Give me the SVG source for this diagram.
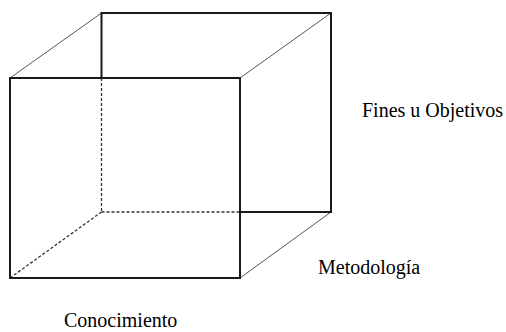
<svg xmlns="http://www.w3.org/2000/svg" width="506" height="332" viewBox="0 0 506 332">
<style>
.e{stroke:#1a1a1a;stroke-width:2;fill:none}
.d{stroke:#333;stroke-width:1.3;stroke-dasharray:3,2;fill:none}
.t{stroke:#555;stroke-width:1;fill:none}
text{font-family:"Liberation Serif","Times New Roman",serif;font-size:20px;fill:#000}
</style>
<rect width="506" height="332" fill="#fff"/>
<g id="connectors">
<line class="t" x1="10" y1="78" x2="101.5" y2="13"/>
<line class="t" x1="240" y1="78" x2="331" y2="13"/>
<line class="t" x1="240" y1="278" x2="331" y2="212"/>
<line class="d" x1="10" y1="278" x2="101.5" y2="212"/>
<line class="d" x1="101.5" y1="78" x2="101.5" y2="212"/>
<line class="d" x1="101.5" y1="212" x2="240" y2="212"/>
</g>
<g id="back-face">
<polyline class="e" points="101.5,78 101.5,13 331,13 331,212 240,212"/>
</g>
<g id="front-face">
<rect class="e" x="10" y="78" width="230" height="200"/>
</g>
<g id="fines"><text x="362" y="117">Fines u Objetivos</text></g>
<g id="metodologia"><text x="318" y="274">Metodología</text></g>
<g id="conocimiento"><text x="64" y="327">Conocimiento</text></g>
</svg>
